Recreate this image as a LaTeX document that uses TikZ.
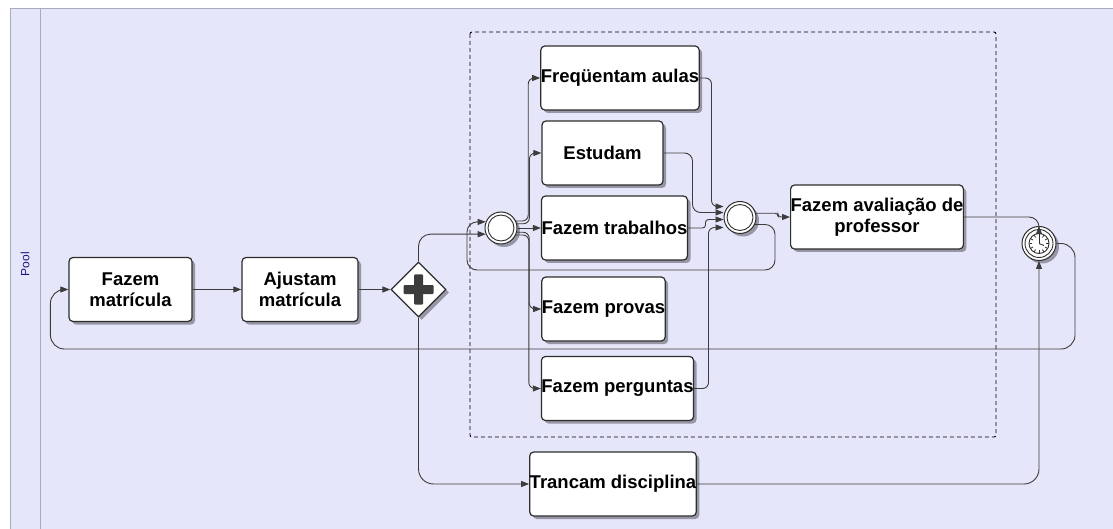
\documentclass[tikz,border=0pt]{standalone}
\usepackage{fontspec}
\setmainfont{Liberation Sans}
\usetikzlibrary{arrows.meta,shapes.geometric,shadows,calc}
\definecolor{poolbg}{RGB}{230,230,250}
\definecolor{poolline}{RGB}{170,170,185}
\definecolor{boxline}{RGB}{45,45,45}
\definecolor{flowline}{RGB}{60,60,60}
\definecolor{shade}{RGB}{150,150,165}
\definecolor{poolname}{RGB}{25,25,125}

\begin{document}
\begin{tikzpicture}[x=1pt,y=-1pt,
  shadowed/.style={drop shadow={shadow xshift=3pt,shadow yshift=-3pt,fill=shade,opacity=1}},
  task/.style={shadowed, draw=boxline, fill=white, line width=1.2pt, rounded corners=4pt,
    inner sep=0pt, align=center, font=\fontsize{18.5}{21}\selectfont\bfseries, minimum height=64pt},
  event/.style={shadowed, circle, draw=boxline, fill=white, line width=1pt, minimum size=32pt, inner sep=0pt},
  flow/.style={draw=flowline, line width=0.9pt, -{Triangle[length=8pt,width=6pt]}}
]
\useasboundingbox (0,0) rectangle (1113,529);
\fill[white] (0,0) rectangle (1113,529);

% pool with its name band
\draw[poolline, fill=poolbg, line width=1pt] (10,9) rectangle (1140,560);
\draw[poolline, line width=1pt] (40,9) -- (40,560);
\node[rotate=90, text=poolname, font=\fontsize{12}{14}\selectfont] (poolname) at (25,264) {Pool};

% group of parallel activities
\draw[black, line width=0.9pt, dash pattern=on 4pt off 3pt, rounded corners=2pt] (470,32) rectangle (996,437);

% tasks
\node[task, minimum width=123pt] (fm) at (130.5,289.5) {Fazem\\matrícula};
\node[task, minimum width=116pt] (am) at (300,289.5) {Ajustam\\matrícula};
\node[task, minimum width=156pt] (fa) at (620,78) {Freqüentam aulas};
\node[task, minimum width=121pt] (es) at (602.5,153) {Estudam};
\node[task, minimum width=145pt] (ft) at (614.5,228) {Fazem trabalhos};
\node[task, minimum width=123pt] (fp) at (603.5,309) {Fazem provas};
\node[task, minimum width=151pt] (fq) at (617.5,388.5) {Fazem perguntas};
\node[task, minimum width=164pt] (tr) at (613,484) {Trancam disciplina};
\node[task, minimum width=172pt] (av) at (877,217) {Fazem avaliação de\\professor};

% parallel gateway
\node[shadowed, diamond, draw=boxline, fill=white, line width=1.2pt, minimum size=55pt, inner sep=0pt] (gw) at (418.5,289.5) {};
\fill[flowline, rounded corners=1pt] ($(gw.center)+(-15,-4.5)$) rectangle ($(gw.center)+(15,4.5)$);
\fill[flowline, rounded corners=1pt] ($(gw.center)+(-4.5,-15)$) rectangle ($(gw.center)+(4.5,15)$);

% split and merge events
\node[event] (st) at (501,228) {};
\draw[boxline, line width=0.9pt] (st.center) circle[radius=13];
\node[event] (mg) at (740,217.5) {};
\draw[boxline, line width=0.9pt] (mg.center) circle[radius=13];

% timer event
\node[event, minimum size=34pt] (tm) at (1039,243.5) {};
\draw[boxline, line width=0.9pt] (tm.center) circle[radius=14];
\draw[boxline, line width=0.9pt] (tm.center) circle[radius=10];
\foreach \a in {0,30,...,330}
  \draw[boxline, line width=0.8pt] ($(tm.center)+(\a:7)$) -- ($(tm.center)+(\a:9.5)$);
\draw[boxline, line width=0.9pt] (tm.center) -- +(0,-7);
\draw[boxline, line width=0.9pt] (tm.center) -- +(5,2);

% sequence flows
\draw[flow] (fm.east) -- (am.west);
\draw[flow] (am.east) -- (gw.west);
\draw[flow, rounded corners=12pt] (gw.north) |- (st.202);
\draw[flow, rounded corners=15pt] (gw.south) |- (tr.west);

% back loop to the split
\coordinate (lpA) at (775,270);
\coordinate (lpB) at (467,222);
\draw[flow, rounded corners=10pt] (mg.-25) -| (lpA) -| (lpB) -- (st.158);

% split to the activities
\draw[flow, rounded corners=6pt] (st.25) -| ([xshift=-12pt]fa.west) -- (fa.west);
\draw[flow, rounded corners=6pt] (st.15) -| ([xshift=-12pt]es.west) -- (es.west);
\draw[flow] (st.east) -- (ft.west);
\draw[flow, rounded corners=6pt] (st.-15) -| ([xshift=-12pt]fp.west) -- (fp.west);
\draw[flow, rounded corners=6pt] (st.-25) -| ([xshift=-12pt]fq.west) -- (fq.west);

% activities to the merge
\draw[flow, rounded corners=6pt] (fa.east) -| ([xshift=-12pt,yshift=11pt]mg.west) -- ([yshift=11pt]mg.west);
\draw[flow, rounded corners=8pt] (es.east) -| ([xshift=-31pt,yshift=5pt]mg.west) -- ([yshift=5pt]mg.west);
\draw[flow, rounded corners=3pt] (ft.east) -| ([xshift=-18pt,yshift=-2pt]mg.west) -- ([yshift=-2pt]mg.west);
\draw[flow, rounded corners=6pt] (fq.east) -| ([xshift=-15pt,yshift=-10pt]mg.west) -- ([yshift=-10pt]mg.west);

% merge to evaluation, then to the timer
\draw[flow, rounded corners=3pt] (mg.15) -| ([xshift=-12pt]av.west) -- (av.west);
\draw[flow, rounded corners=10pt] (av.east) -| (tm.north);
\draw[flow, rounded corners=15pt] (tr.east) -| (tm.south);

% timer back to enrolment
\coordinate (lpC) at (1075,349);
\draw[flow, rounded corners=14pt] (tm.east) -| (lpC) -| ([xshift=-18pt]fm.west) -- (fm.west);
\end{tikzpicture}
\end{document}
